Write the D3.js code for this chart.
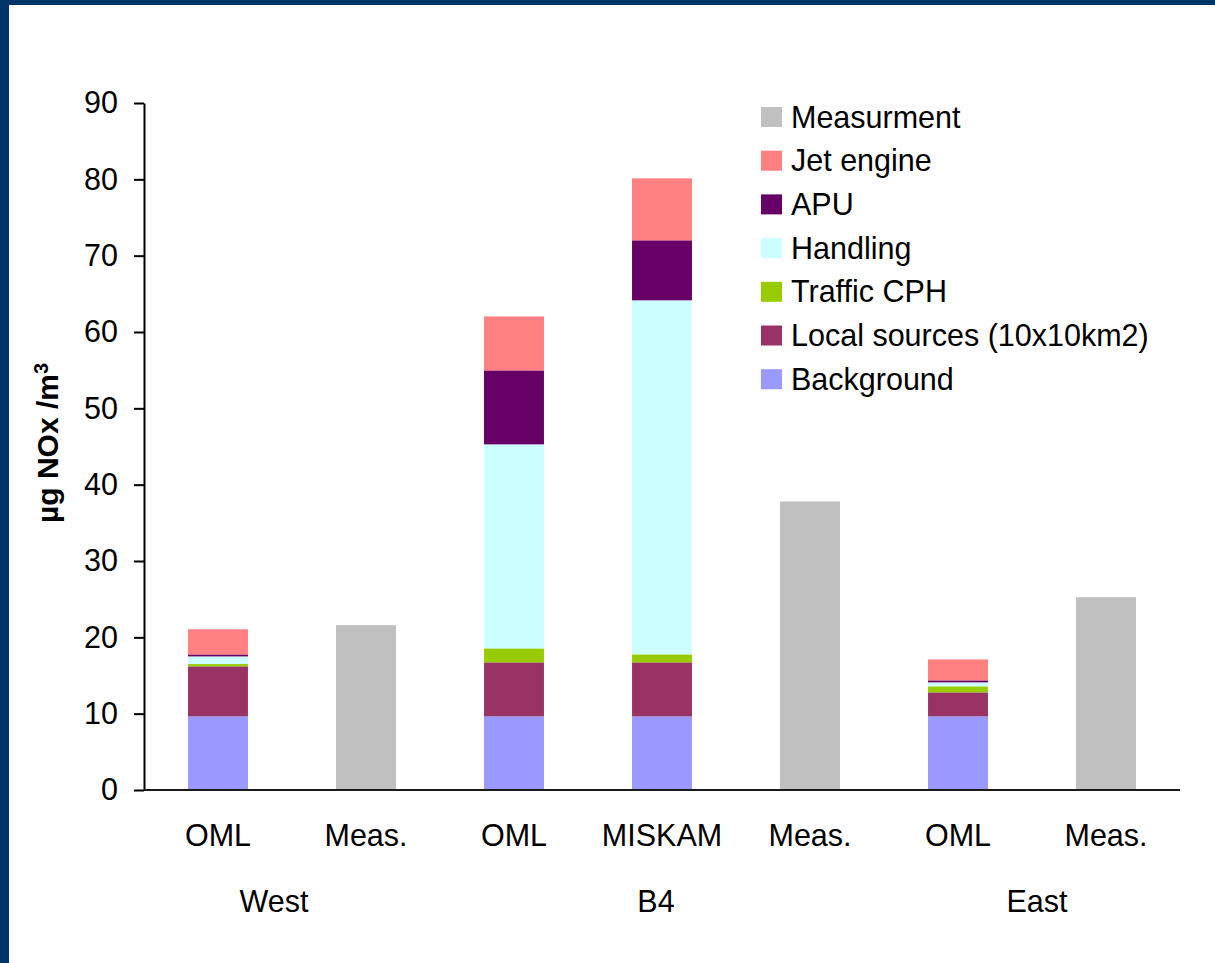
<!DOCTYPE html>
<html>
<head>
<meta charset="utf-8">
<script src="https://cdn.jsdelivr.net/npm/d3@7"></script>
<style>
  html, body { margin: 0; padding: 0; background: #ffffff; }
  svg { display: block; }
  text { font-family: "Liberation Sans", Arial, sans-serif; fill: #000; }
</style>
</head>
<body>
<script>
// Categories along the x axis and the site each belongs to
const categories = ["OML", "Meas.", "OML", "MISKAM", "Meas.", "OML", "Meas."];
const sites = ["West", "West", "B4", "B4", "B4", "East", "East"];
const siteNames = ["West", "B4", "East"];

// Modelled contributions (µg NOx/m3), stacked bottom to top
const background = [9.65, 0, 9.65, 9.65, 0, 9.65, 0];
const localSources = [6.55, 0, 7.07, 7.07, 0, 3.14, 0];
const trafficCPH = [0.3, 0, 1.83, 1.05, 0, 0.79, 0];
const handling = [1.0, 0, 26.73, 46.38, 0, 0.52, 0];
const apu = [0.26, 0, 9.69, 7.86, 0, 0.26, 0];
const jetEngine = [3.3, 0, 7.07, 8.12, 0, 2.75, 0];

// Measured concentrations
const measurement = [0, 21.6, 0, 0, 37.8, 0, 25.25];

// Y axis ticks
const yTicks = [0, 10, 20, 30, 40, 50, 60, 70, 80, 90];

const W = 1215, H = 963;
const margin = { left: 144, right: 35, top: 103, bottom: 173 };
const FONT = "30.5px";

const stackSeries = [
  { name: "Background", values: background, color: "#9999FF" },
  { name: "Local sources (10x10km2)", values: localSources, color: "#993366" },
  { name: "Traffic CPH", values: trafficCPH, color: "#99CC00" },
  { name: "Handling", values: handling, color: "#CCFFFF" },
  { name: "APU", values: apu, color: "#660066" },
  { name: "Jet engine", values: jetEngine, color: "#FF8080" }
];
const measSeries = { name: "Measurment", values: measurement, color: "#C0C0C0" };

const svg = d3.select("body").append("svg")
  .attr("width", W).attr("height", H);

// Slide frame
svg.append("rect").attr("x", 0).attr("y", 0).attr("width", W).attr("height", H).attr("fill", "#ffffff");
svg.append("rect").attr("x", 0).attr("y", 0).attr("width", 9).attr("height", H).attr("fill", "#003366");
svg.append("rect").attr("x", 0).attr("y", 0).attr("width", W).attr("height", 5).attr("fill", "#003366");

const idx = d3.range(categories.length);
const x = d3.scaleBand()
  .domain(idx)
  .range([margin.left, W - margin.right])
  .paddingInner(0.595)
  .paddingOuter(0.2975);

const y = d3.scaleLinear()
  .domain([0, 90])
  .range([H - margin.bottom, margin.top]);

// Stacked model bars
const rows = idx.map(i => {
  const r = { i };
  stackSeries.forEach(s => { r[s.name] = s.values[i]; });
  return r;
});
const stack = d3.stack().keys(stackSeries.map(s => s.name));
const layers = stack(rows);

svg.append("g").selectAll("g")
  .data(layers)
  .join("g")
  .attr("fill", (d, k) => stackSeries[k].color)
  .selectAll("rect")
  .data(d => d.filter(p => p[1] - p[0] > 0))
  .join("rect")
  .attr("x", p => x(p.data.i))
  .attr("width", x.bandwidth())
  .attr("y", p => y(p[1]))
  .attr("height", p => y(p[0]) - y(p[1]));

// Measurement bars
svg.append("g").selectAll("rect")
  .data(idx.filter(i => measurement[i] > 0))
  .join("rect")
  .attr("fill", measSeries.color)
  .attr("x", i => x(i))
  .attr("width", x.bandwidth())
  .attr("y", i => y(measurement[i]))
  .attr("height", i => y(0) - y(measurement[i]));

// Y axis
const yAxis = svg.append("g")
  .attr("transform", `translate(${margin.left},0)`)
  .call(d3.axisLeft(y).tickValues(yTicks).tickSize(10).tickPadding(16).tickSizeOuter(0));
yAxis.select(".domain").attr("stroke", "#000").attr("stroke-width", 2);
yAxis.selectAll(".tick line").attr("stroke", "#000").attr("stroke-width", 2);
yAxis.selectAll(".tick text")
  .style("font-family", "'Liberation Sans', Arial, sans-serif")
  .style("font-size", FONT)
  .attr("fill", "#000");

// X axis baseline
svg.append("line")
  .attr("x1", margin.left).attr("x2", W - margin.right)
  .attr("y1", y(0)).attr("y2", y(0))
  .attr("stroke", "#1a1a1a").attr("stroke-width", 2);

// Category labels
svg.append("g").selectAll("text")
  .data(idx)
  .join("text")
  .attr("x", i => x(i) + x.bandwidth() / 2)
  .attr("y", 846)
  .attr("text-anchor", "middle")
  .style("font-size", FONT)
  .text(i => categories[i]);

// Site labels under each group
const siteNudge = { West: -18, B4: -6, East: 5 };
svg.append("g").selectAll("text")
  .data(siteNames)
  .join("text")
  .attr("x", s => {
    const members = idx.filter(i => sites[i] === s);
    const x0 = x(members[0]) + x.bandwidth() / 2;
    const x1 = x(members[members.length - 1]) + x.bandwidth() / 2;
    return (x0 + x1) / 2 + siteNudge[s];
  })
  .attr("y", 912)
  .attr("text-anchor", "middle")
  .style("font-size", FONT)
  .text(s => s);

// Y axis title
const yTitle = svg.append("text")
  .attr("transform", `translate(58,443) rotate(-90)`)
  .attr("text-anchor", "middle")
  .style("font-size", "30px")
  .style("font-weight", "bold");
yTitle.append("tspan").text("µg NOx /m");
yTitle.append("tspan").attr("dy", "-0.5em").style("font-size", "20px").text("3");

// Legend
const legendItems = [measSeries].concat(stackSeries.slice().reverse());
const legend = svg.append("g").attr("transform", "translate(761,107)");
const lg = legend.selectAll("g")
  .data(legendItems)
  .join("g")
  .attr("transform", (d, k) => `translate(0,${k * 43.7})`);
lg.append("rect")
  .attr("width", 21).attr("height", 20)
  .attr("fill", d => d.color);
lg.append("text")
  .attr("x", 30).attr("y", 20.5)
  .style("font-size", FONT)
  .text(d => d.name);
</script>
</body>
</html>
